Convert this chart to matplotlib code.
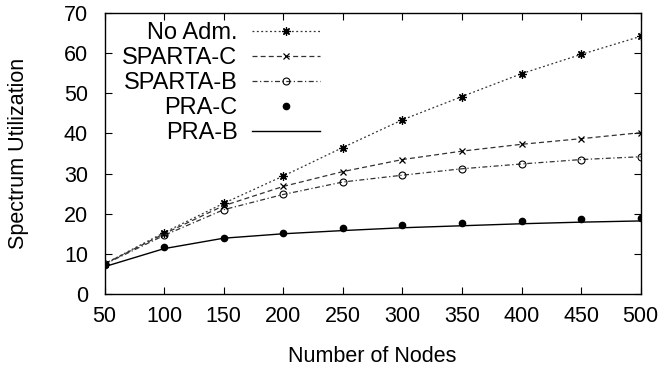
import matplotlib
matplotlib.use("Agg")
from matplotlib import pyplot as plt

plt.rcParams["font.family"] = ["Liberation Sans", "DejaVu Sans"]
plt.rcParams["font.size"] = 15.5

nodes = [50, 100, 150, 200, 250, 300, 350, 400, 450, 500]
no_adm = [7.5, 15.3, 22.6, 29.4, 36.5, 43.4, 49.2, 54.9, 59.7, 64.2]
sparta_c = [7.5, 15.0, 22.0, 26.8, 30.5, 33.5, 35.6, 37.3, 38.7, 40.2]
sparta_b = [7.4, 14.6, 21.0, 24.8, 27.9, 29.6, 31.2, 32.4, 33.5, 34.2]
pra_c = [7.2, 11.8, 14.0, 15.3, 16.4, 17.2, 17.6, 18.1, 18.7, 18.9]
pra_b = [6.8, 11.3, 13.9, 15.0, 15.8, 16.5, 17.0, 17.5, 17.9, 18.2]

fig = plt.figure(figsize=(6.66, 3.74), dpi=100)
ax = fig.add_axes([0.157, 0.214, 0.805, 0.751])

ax.plot(nodes, no_adm, color="#333333", lw=0.9, ls=(0, (1.5, 2)),
        marker=(8, 2, 0), ms=6, mew=0.9, mec="black", label="No Adm.")
ax.plot(nodes, sparta_c, color="#333333", lw=0.9, ls=(0, (4, 2.5)),
        marker="x", ms=5, mew=0.9, mec="black", label="SPARTA-C")
ax.plot(nodes, sparta_b, color="#333333", lw=0.9, ls=(0, (4, 2, 1, 2)),
        marker="o", ms=5, mew=0.8, mfc="none", mec="black", label="SPARTA-B")
ax.plot(nodes, pra_c, ls="none", marker="o", ms=4.5, color="black", label="PRA-C")
ax.plot(nodes, pra_b, color="black", lw=1.0, label="PRA-B")

ax.set_xlim(50, 500)
ax.set_ylim(0, 70)
ax.set_xticks(nodes)
ax.set_yticks(range(0, 71, 10))
ax.tick_params(direction="in", top=True, right=True, length=5, width=0.8, labelsize=15.5)
ax.tick_params(axis="y", pad=12)
ax.tick_params(axis="x", pad=9)
for s in ax.spines.values():
    s.set_linewidth(1.0)

ax.set_xlabel("Number of Nodes", fontsize=15.5, labelpad=13)
ax.set_ylabel("Spectrum Utilization", fontsize=15.5, labelpad=25)

ax.legend(loc="upper right", bbox_to_anchor=(0.402, 0.968), frameon=False, markerfirst=False,
          handlelength=2.9, handletextpad=0.6, labelspacing=0.13, fontsize=17,
          borderaxespad=0, borderpad=0, numpoints=1)

fig.savefig("out.png", dpi=100)
